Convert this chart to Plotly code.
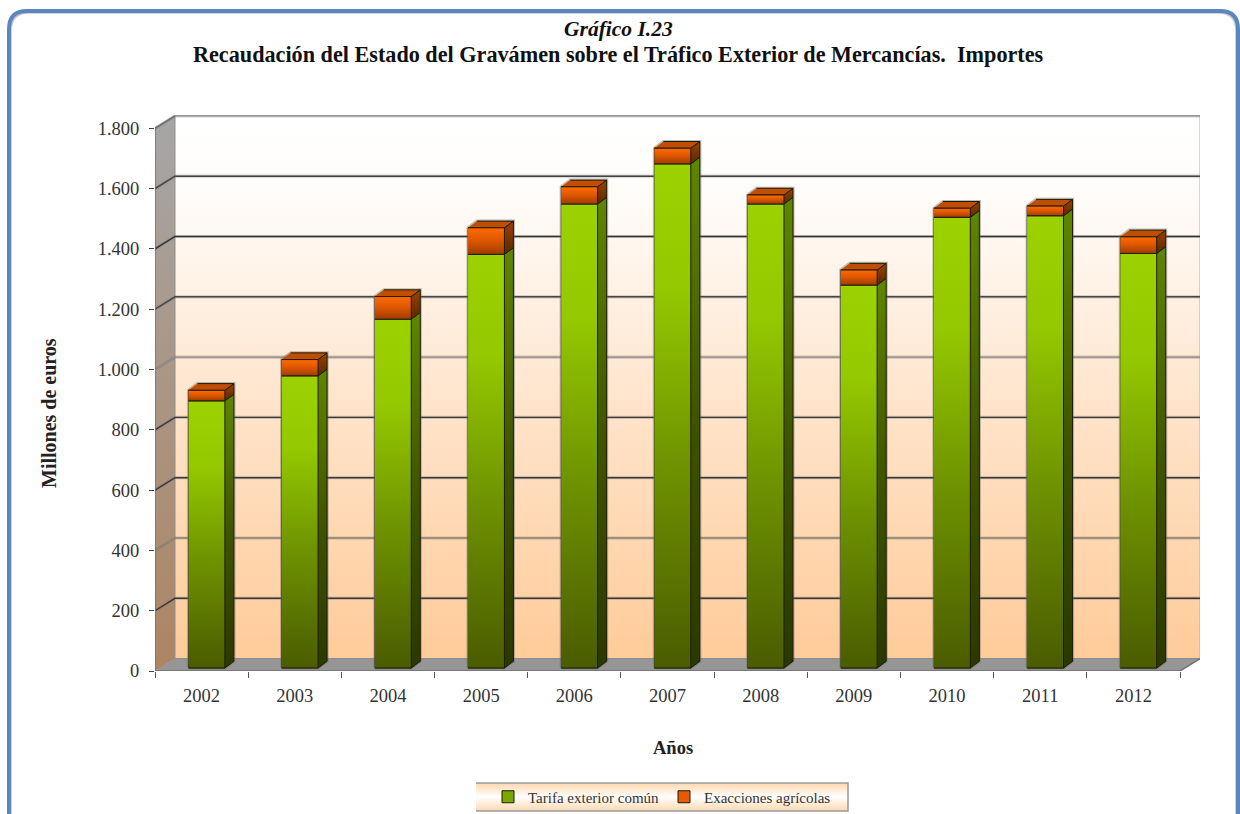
import plotly.graph_objects as go

YEARS = ["2002", "2003", "2004", "2005", "2006", "2007", "2008", "2009", "2010", "2011", "2012"]
TARIFA = [886, 969, 1157, 1372, 1539, 1672, 1539, 1270, 1495, 1500, 1375]
EXACCIONES = [35, 54, 75, 88, 57, 52, 30, 50, 30, 32, 55]
TICKS = [0, 200, 400, 600, 800, 1000, 1200, 1400, 1600, 1800]
GRID_GREYS = ["#8a8a8a", "#3a3a3a", "#8a8270", "#3a3a3a", "#3a3a3a", "#908a84", "#444444", "#333333", "#444444", "#8c8c8c"]
TITLE_1 = "Gráfico I.23"
TITLE_2 = "Recaudación del Estado del Gravámen sobre el Tráfico Exterior de Mercancías.  Importes"
Y_TITLE = "Millones de euros"
X_TITLE = "Años"
SERIES_NAMES = ["Tarifa exterior común", "Exacciones agrícolas"]

W, H = 1240, 814
FONT = "Liberation Serif"
X_LEFT, X_RIGHT, Y_BOTTOM, Y_TOP = 155, 1200, 671, 115
PX_PER_BAND = (1180 - 155) / 11
PX_PER_UNIT = (671 - 128.3) / 1800
WALL_DX = 20 / PX_PER_BAND
WALL_DY = 12.4 / PX_PER_UNIT
BAR_OFFSET = -0.14
BAR_WIDTH = 0.39
BAR_BASE = 3 / PX_PER_UNIT
BAR_DX = 9 / PX_PER_BAND
BAR_DY = 6.7 / PX_PER_UNIT
XR = [-0.5, -0.5 + (X_RIGHT - X_LEFT) / PX_PER_BAND]
YR = [0, (Y_BOTTOM - Y_TOP) / PX_PER_UNIT]
X0, X1 = -0.5, 10.5

GREEN_FRONT = [[0, "#4a5c00"], [0.4, "#6e9200"], [0.75, "#94c800"], [1, "#9cd200"]]
GREEN_SIDE = [[0, "#2a3800"], [0.5, "#3f5500"], [1, "#5f8600"]]
ORANGE_FRONT = [[0, "#a03c00"], [0.55, "#e05800"], [1, "#ff6a00"]]
ORANGE_SIDE = [[0, "#5a2800"], [1, "#9a4200"]]
EDGE = "#1c1c00"

fig = go.Figure()


def poly(xs, ys, xaxis="x", yaxis="y", color=None, scale=None, line=None, width=1):
    kw = dict(
        x=xs, y=ys, mode="lines", fill="toself", showlegend=False, hoverinfo="skip",
        xaxis=xaxis, yaxis=yaxis,
        line=dict(color=line or "rgba(0,0,0,0)", width=width),
    )
    if scale:
        kw["fillgradient"] = dict(type="vertical", colorscale=scale)
        kw["fillcolor"] = "rgba(0,0,0,0)"
    else:
        kw["fillcolor"] = color
    fig.add_trace(go.Scatter(**kw))


def frame_path(x0, y0, x1, r):
    def px(x):
        return x / W

    def py(y):
        return 1 - y / H
    return (f"M {px(x0)} -0.2 L {px(x0)} {py(y0 + r)} Q {px(x0)} {py(y0)} {px(x0 + r)} {py(y0)} "
            f"L {px(x1 - r)} {py(y0)} Q {px(x1)} {py(y0)} {px(x1)} {py(y0 + r)} L {px(x1)} -0.2 L {px(x0)} -0.2 Z")


# back wall, left wall, floor
poly([X0 + WALL_DX, X1 + WALL_DX, X1 + WALL_DX, X0 + WALL_DX], [WALL_DY, WALL_DY, YR[1], YR[1]],
     scale=[[0, "#ffcb99"], [0.5, "#ffe6cf"], [0.75, "#fff6ee"], [0.88, "#fffdfb"], [1, "#ffffff"]], line="#b0b0b0")
poly([X0, X0 + WALL_DX, X0 + WALL_DX, X0], [0, WALL_DY, 1800 + WALL_DY, 1800],
     scale=[[0, "#ad8563"], [1, "#a6a6a6"]], line="#8f8f8f")
poly([X0, X1, X1 + WALL_DX, X0 + WALL_DX], [0, 0, WALL_DY, WALL_DY], color="#969696", line="#8a8a8a")

# gridlines on the walls
for tick, grey in zip(TICKS[1:], GRID_GREYS[1:]):
    xs = [X0, X0 + WALL_DX, X1 + WALL_DX]
    ys = [tick, tick + WALL_DY, tick + WALL_DY]
    fig.add_trace(go.Scatter(x=xs, y=ys, mode="lines", line=dict(color="rgba(120,120,120,0.35)", width=3.2),
                             showlegend=False, hoverinfo="skip"))
    fig.add_trace(go.Scatter(x=xs, y=ys, mode="lines", line=dict(color=grey, width=1.4),
                             showlegend=False, hoverinfo="skip"))

# bars: real stacked values
idx = list(range(len(YEARS)))
fig.add_trace(go.Bar(x=idx, y=TARIFA, base=[BAR_BASE] * len(idx), width=BAR_WIDTH, offset=BAR_OFFSET,
                     marker=dict(color="#7aa800", line=dict(color=EDGE, width=1)), name=SERIES_NAMES[0],
                     xaxis="x2", yaxis="y2", hoverinfo="skip"))
fig.add_trace(go.Bar(x=idx, y=EXACCIONES, base=[BAR_BASE + t for t in TARIFA], width=BAR_WIDTH, offset=BAR_OFFSET,
                     marker=dict(color="#e85a00", line=dict(color=EDGE, width=1)), name=SERIES_NAMES[1],
                     xaxis="x2", yaxis="y2", hoverinfo="skip"))

# gradient faces, depth faces
for i, t, e in zip(idx, TARIFA, EXACCIONES):
    a = i + BAR_OFFSET
    b = a + BAR_WIDTH
    y0 = BAR_BASE
    y1 = y0 + t
    y2 = y1 + e
    ax = dict(xaxis="x2", yaxis="y2")
    fig.add_trace(go.Scatter(
        x=[a, a, a + BAR_DX, b + BAR_DX, b + BAR_DX, b, a],
        y=[y0, y2, y2 + BAR_DY, y2 + BAR_DY, y0 + BAR_DY, y0, y0],
        mode="lines", line=dict(color="rgba(110,110,110,0.45)", width=3.2),
        showlegend=False, hoverinfo="skip", **ax))
    poly([b, b + BAR_DX, b + BAR_DX, b], [y0, y0 + BAR_DY, y1 + BAR_DY, y1], scale=GREEN_SIDE, line=EDGE, **ax)
    poly([b, b + BAR_DX, b + BAR_DX, b], [y1, y1 + BAR_DY, y2 + BAR_DY, y2], scale=ORANGE_SIDE, line=EDGE, **ax)
    poly([a, b, b + BAR_DX, a + BAR_DX], [y2, y2, y2 + BAR_DY, y2 + BAR_DY], color="#c04e00", line=EDGE, **ax)
    poly([a, b, b, a], [y0, y0, y1, y1], scale=GREEN_FRONT, line=EDGE, **ax)
    poly([a, b, b, a], [y1, y1, y2, y2], scale=ORANGE_FRONT, line=EDGE, **ax)

# legend plate, in page pixels
poly([476, 848, 848, 476], [783, 783, 811, 811], xaxis="x3", yaxis="y3",
     scale=[[0, "#ffd8ae"], [0.5, "#ffffff"], [1, "#ffd8ae"]], line="#9a9a9a", width=1.5)

fig.update_layout(
    width=W, height=H, margin=dict(l=0, r=0, t=0, b=0, autoexpand=False), autosize=False,
    paper_bgcolor="white", plot_bgcolor="rgba(0,0,0,0)",
    font=dict(family=FONT, color="#222222"),
    separators=",.", barmode="overlay", showlegend=True,
    legend=dict(orientation="h", x=664 / W, xanchor="center", y=1 - 797 / H, yanchor="middle",
                bgcolor="rgba(0,0,0,0)", font=dict(size=15, color="#333333"),
                entrywidth=131, entrywidthmode="pixels",
                itemclick=False, itemdoubleclick=False),
    xaxis=dict(domain=[X_LEFT / W, X_RIGHT / W], range=XR, tickmode="array", tickvals=idx, ticktext=YEARS,
               ticks="outside", ticklen=1, tickcolor="rgba(0,0,0,0)", ticklabelstandoff=7,
               tickfont=dict(size=18.5, color="#333333"), showgrid=False, zeroline=False, showline=False,
               minor=dict(tickmode="array", tickvals=[i - 0.5 for i in idx] + [10.5], ticks="outside",
                          ticklen=6, tickcolor="#555555", tickwidth=1.2)),
    yaxis=dict(domain=[1 - Y_BOTTOM / H, 1 - Y_TOP / H], range=YR, tickmode="array", tickvals=TICKS,
               tickformat=",d", ticks="outside", ticklen=5, tickcolor="#444444", tickwidth=1.2,
               ticklabelstandoff=6, tickfont=dict(size=18.5, color="#333333"),
               showgrid=False, zeroline=False, showline=False),
    xaxis2=dict(overlaying="x", range=XR, visible=False),
    yaxis2=dict(overlaying="y", range=YR, visible=False),
    xaxis3=dict(domain=[0, 1], range=[0, W], visible=False, anchor="y3"),
    yaxis3=dict(domain=[0, 1], range=[H, 0], visible=False, anchor="x3"),
    shapes=[
        dict(type="path", xref="paper", yref="paper", layer="below", path=frame_path(11, 13, 1236, 18),
             line=dict(color="#c8c8c8", width=1.5), fillcolor="white"),
        dict(type="path", xref="paper", yref="paper", layer="below", path=frame_path(9, 11, 1238, 18),
             line=dict(color="#5b87c0", width=4)),
        dict(type="line", x0=X0, x1=X1, y0=0, y1=0, xref="x", yref="y", line=dict(color="#707070", width=1.4)),
        dict(type="line", x0=X1, x1=X1 + WALL_DX, y0=0, y1=WALL_DY, xref="x", yref="y",
             line=dict(color="#707070", width=1.4)),
        dict(type="line", x0=X0, x1=X0, y0=0, y1=1800, xref="x", yref="y", line=dict(color="#707070", width=1.4)),
        dict(type="line", x0=X0, x1=X0 + WALL_DX, y0=1800, y1=1800 + WALL_DY, xref="x", yref="y",
             line=dict(color="#707070", width=1.4)),
    ],
    annotations=[
        dict(text="<b><i>%s</i></b>" % TITLE_1, xref="paper", yref="paper", x=618 / W, y=1 - 29 / H, showarrow=False,
             font=dict(size=21.5, color="#111111"), xanchor="center", yanchor="middle"),
        dict(text="<b>%s</b>" % TITLE_2, xref="paper", yref="paper", x=618 / W, y=1 - 55 / H, showarrow=False,
             font=dict(size=22.2, color="#111111"), xanchor="center", yanchor="middle"),
        dict(text="<b>%s</b>" % X_TITLE, xref="paper", yref="paper", x=672.5 / W, y=1 - 748 / H, showarrow=False,
             font=dict(size=18.5, color="#222222"), xanchor="center", yanchor="middle"),
        dict(text="<b>%s</b>" % Y_TITLE, xref="paper", yref="paper", x=49 / W, y=1 - 413 / H, showarrow=False,
             textangle=-90, font=dict(size=20, color="#222222"), xanchor="center", yanchor="middle"),
    ],
)

fig.write_html("out.html", config={"displayModeBar": False},
               post_script="document.body.style.margin='0';document.body.style.overflow='hidden';")
